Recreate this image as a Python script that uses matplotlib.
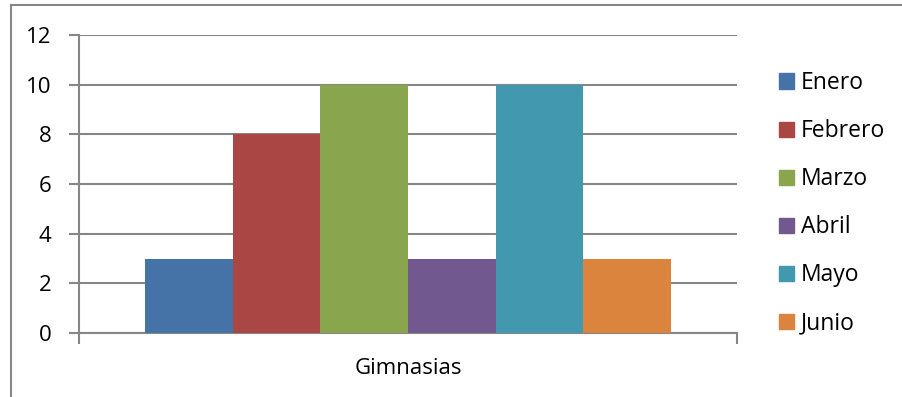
import matplotlib
matplotlib.use("Agg")
import matplotlib.pyplot as plt
from matplotlib.patches import Rectangle
from matplotlib.lines import Line2D

category = "Gimnasias"
series = ["Enero", "Febrero", "Marzo", "Abril", "Mayo", "Junio"]
values = [3, 8, 10, 3, 10, 3]
colors = ["#4572A7", "#AA4643", "#89A54E", "#71588F", "#4198AF", "#DB843D"]
yticks = [0, 2, 4, 6, 8, 10, 12]

plt.rcParams['font.family'] = ['Open Sans', 'DejaVu Sans']
W, H = 903, 397
fig = plt.figure(figsize=(W/100, H/100), dpi=100)
ax = fig.add_axes([79/W, 1-333/H, (737-79)/W, (333-35)/H])

grey = "#868686"
n = len(series)
w = 0.8 / n
handles = []
for i, (s, v, c) in enumerate(zip(series, values, colors)):
    x = (i - (n-1)/2) * w
    ax.bar(x, v, width=w, color=c, zorder=3, linewidth=0)
    handles.append(Rectangle((0, 0), 1, 1, color=c))

ax.set_xlim(-0.5, 0.5)
ax.set_ylim(0, 12)
ax.set_yticks(yticks)
ax.set_yticklabels([str(t) for t in yticks], fontsize=16)
ax.yaxis.grid(True, color=grey, linewidth=1.5, zorder=0)
ax.tick_params(axis='y', length=7, width=1.5, color=grey, pad=13)
ax.set_xticks([0])
ax.set_xticklabels([category], fontsize=16)
ax.tick_params(axis='x', which='major', length=0, pad=18)
ax.set_xticks([-0.5, 0.5], minor=True)
ax.tick_params(axis='x', which='minor', length=8, width=1.5, color=grey)
for sp in ['top', 'right']:
    ax.spines[sp].set_visible(False)
for sp in ['left', 'bottom']:
    ax.spines[sp].set_color(grey)
    ax.spines[sp].set_linewidth(1.5)

leg = fig.legend(handles, series, loc='upper left', bbox_to_anchor=(770/W, 1-62/H),
                 frameon=False, fontsize=16.5, handlelength=0.65, handleheight=0.65,
                 handletextpad=0.3, labelspacing=1.05, borderaxespad=0)

# outer chart border (partially visible)
fig.add_artist(Line2D([11/W, 11/W], [0, 1-5/H], color=grey, linewidth=1.5))
fig.add_artist(Line2D([11/W, 1], [1-5/H, 1-5/H], color=grey, linewidth=1.5))

fig.savefig("out.png", dpi=100)
